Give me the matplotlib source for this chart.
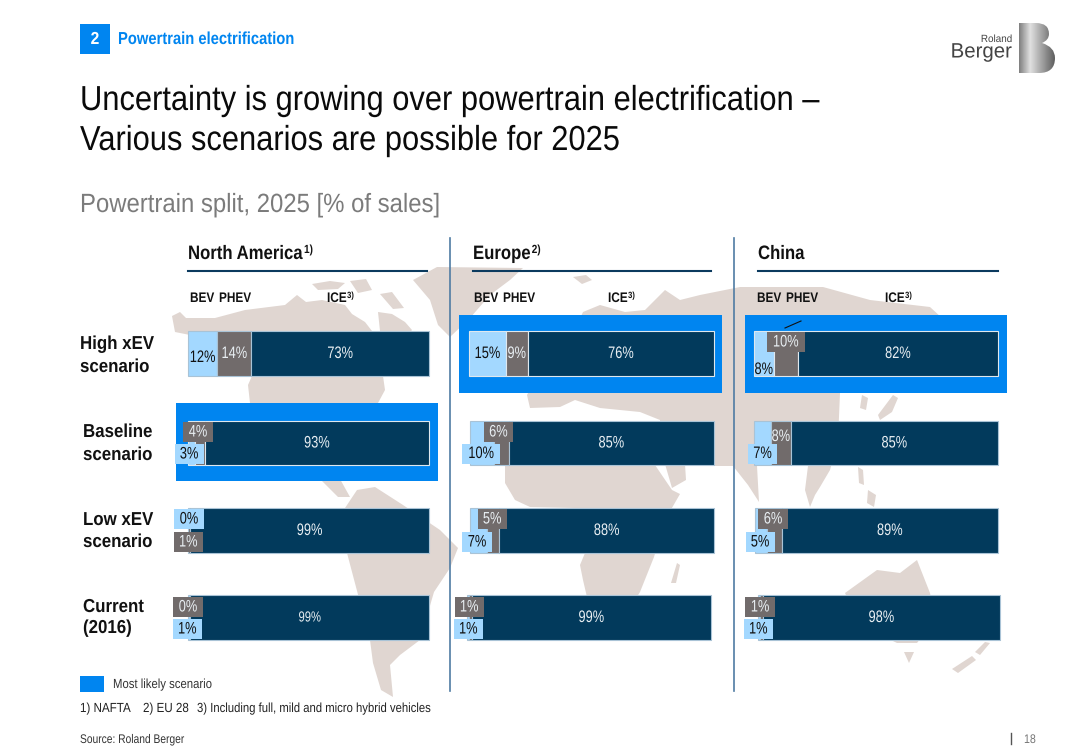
import numpy as np
import matplotlib
matplotlib.use('Agg')
import matplotlib.pyplot as plt
import matplotlib.patheffects as pe
from matplotlib.patches import Polygon, Rectangle, PathPatch
from matplotlib.path import Path
from matplotlib.transforms import Affine2D, Bbox

plt.rcParams['font.family'] = ['Liberation Sans', 'DejaVu Sans']

W, H = 1080, 748

# rows: high xEV, baseline, low xEV, current
scenarios = ['High xEV\nscenario', 'Baseline\nscenario', 'Low xEV\nscenario', 'Current\n(2016)']
regions = ['North America', 'Europe', 'China']
region_notes = ['1)', '2)', '']

na_bev = [12, 3, 0, 1]
na_phev = [14, 4, 1, 0]
na_ice = [73, 93, 99, 99]

eu_bev = [15, 10, 7, 1]
eu_phev = [9, 6, 5, 1]
eu_ice = [76, 85, 88, 99]

cn_bev = [8, 7, 5, 1]
cn_phev = [10, 8, 6, 1]
cn_ice = [82, 85, 89, 98]

likely_row = [1, 0, 0]  # most likely scenario per region

LIGHT = '#a3d8ff'
GREY = '#716b6b'
NAVY = '#023a5c'
BLUE = '#0085f0'
LAND = '#e0d6d1'
LINE = '#4f7ba3'
INK = '#111111'

# bar extents in pixels: left, right per row
row_y = [(331, 376), (421, 465), (508, 553), (595, 640)]
cell_x = [
    [(188, 429), (188, 429), (188, 429), (188, 429)],
    [(469, 714), (470, 714), (470, 714), (467, 711)],
    [(754, 998), (754, 998), (755, 998), (758, 1000)],
]

# label shifts in pixels from the middle of the segment (dx, dy down), boxed or not
# key: region, row, segment (0 bev, 1 phev, 2 ice)
nudges = {
    (0, 0, 0): (0, 4, False),
    (0, 1, 0): (-2.5, 11, True), (0, 1, 1): (-2, -11, True),
    (0, 2, 0): (1, -11.5, True), (0, 2, 1): (-1, 11.5, True),
    (0, 3, 0): (-2, 11.5, True), (0, 3, 1): (-2.4, -10.5, True),
    (1, 1, 0): (-1, 10.5, True), (1, 1, 1): (-3, -11, True),
    (1, 2, 0): (-1.5, 11.5, True), (1, 2, 1): (-1, -11.5, True),
    (1, 3, 0): (0, 11.5, True), (1, 3, 1): (-1.5, -10.5, True),
    (2, 0, 0): (0, 16, False), (2, 0, 1): (0, -11.5, True),
    (2, 1, 0): (0, 10.5, True), (2, 1, 1): (0, -6.5, False),
    (2, 2, 0): (-1, 11.5, True), (2, 2, 1): (-1.4, -11.5, True),
    (2, 3, 0): (-1, 11.5, True), (2, 3, 1): (-1.6, -10.5, True),
}

# rough outlines of the world map behind the chart, in pixels
land_shapes = [
    # north america
    [(172, 316), (180, 312), (186, 318), (215, 318), (245, 310), (285, 305), (297, 295), (306, 302),
     (322, 300), (345, 305), (352, 314), (365, 322), (372, 331), (380, 331), (378, 312), (392, 314),
     (405, 322), (412, 330), (400, 345), (383, 376), (385, 390), (378, 403), (350, 440), (335, 470),
     (350, 497), (338, 497), (323, 482), (290, 450), (250, 403), (248, 385), (252, 376), (230, 345),
     (190, 335), (175, 332)],
    # arctic islands
    [(312, 284), (330, 281), (345, 283), (338, 289), (318, 290)],
    [(350, 281), (366, 279), (372, 290), (358, 293)],
    [(380, 294), (392, 292), (404, 308), (393, 309)],
    # greenland
    [(413, 280), (437, 267), (523, 268), (510, 280), (490, 295), (470, 318), (450, 337), (438, 325), (430, 300)],
    # south america
    [(357, 490), (375, 487), (403, 505), (440, 530), (458, 548), (450, 568), (434, 592), (420, 640),
     (400, 655), (390, 665), (393, 697), (381, 690), (373, 663), (370, 640), (347, 553), (345, 508)],
    # iceland
    [(573, 277), (586, 275), (592, 280), (582, 284)],
    # eurasia
    [(583, 312), (600, 305), (625, 312), (645, 310), (665, 290), (680, 300), (700, 295), (740, 287),
     (823, 287), (870, 300), (930, 307), (942, 318), (930, 350), (880, 380), (840, 393), (838, 440),
     (830, 470), (820, 487), (815, 495), (810, 507), (805, 490), (808, 466), (757, 466), (759, 502),
     (748, 485), (733, 466), (662, 466), (660, 420), (640, 412),
     (600, 408), (575, 400), (560, 407), (530, 408), (527, 395), (535, 380), (570, 340)],
    # arabia
    [(665, 464), (685, 464), (686, 480), (672, 488)],
    # japan, korea, islands
    [(893, 395), (898, 398), (892, 412), (880, 420), (878, 415)],
    [(862, 395), (868, 398), (866, 410), (860, 408)],
    [(858, 467), (863, 470), (864, 485), (859, 483)],
    [(868, 490), (876, 495), (874, 507), (867, 503)],
    # africa
    [(505, 465), (655, 465), (672, 490), (680, 494), (665, 520), (654, 557), (640, 592), (635, 600),
     (615, 640), (600, 640), (590, 610), (583, 580), (580, 565), (585, 553), (590, 530), (575, 508),
     (530, 507), (515, 500), (505, 483)],
    # madagascar
    [(677, 563), (680, 565), (676, 583), (671, 583)],
    # australia
    [(845, 593), (877, 570), (900, 573), (917, 560), (930, 593), (935, 620), (917, 643), (897, 643), (860, 625)],
    [(904, 652), (914, 652), (909, 663)],
    # new zealand
    [(985, 642), (990, 643), (980, 655), (975, 652)],
    [(972, 656), (976, 660), (958, 673), (952, 669)],
]


class Squeeze(pe.AbstractPathEffect):
    """Draw text narrower in x, the slide uses a condensed looking face."""

    def __init__(self, sx, align='left'):
        super().__init__()
        self.sx = sx
        self.align = align

    def draw_path(self, renderer, gc, tpath, affine, rgbFace=None):
        box = tpath.get_extents(affine)
        if self.align == 'center':
            x0 = (box.x0 + box.x1) / 2
        elif self.align == 'right':
            x0 = box.x1
        else:
            x0 = affine.get_matrix()[0, 2]
        squeezed = affine + Affine2D().translate(-x0, 0).scale(self.sx, 1).translate(x0, 0)
        renderer.draw_path(gc, tpath, squeezed, rgbFace)


def put(ax, x, y, s, sx, ha='left', va='baseline', **kw):
    t = ax.text(x, y, s, ha=ha, va=va, path_effects=[Squeeze(sx, ha)], **kw)
    full_extent = t.get_window_extent

    # report the width that is really drawn
    def drawn_extent(renderer=None, dpi=None):
        box = full_extent(renderer, dpi)
        if ha == 'right':
            return Bbox.from_extents(box.x1 - box.width * sx, box.y0, box.x1, box.y1)
        if ha == 'center':
            mid = (box.x0 + box.x1) / 2
            return Bbox.from_extents(mid - box.width * sx / 2, box.y0, mid + box.width * sx / 2, box.y1)
        return Bbox.from_extents(box.x0, box.y0, box.x0 + box.width * sx, box.y1)

    t.get_window_extent = drawn_extent
    return t


def main():
    fig = plt.figure(figsize=(W / 100, H / 100), dpi=100, facecolor='white')

    # page layer in pixel coordinates
    bg = fig.add_axes([0, 0, 1, 1], zorder=0)
    bg.axis('off')

    for shape in land_shapes:
        bg.add_patch(Polygon(shape, closed=True, facecolor=LAND, edgecolor='none', zorder=1))

    # highlight boxes
    boxes = [(176, 403, 262, 78), (459, 315, 263, 78), (745, 315, 262, 78)]
    for x0, y0, w, h in boxes:
        bg.add_patch(Rectangle((x0, y0), w, h, facecolor=BLUE, edgecolor='none', zorder=2))

    # panel separators
    for x in [450, 734]:
        bg.plot([x, x], [238, 691], color=LINE, lw=1.2, zorder=3)

    # header
    bg.add_patch(Rectangle((80, 24), 30, 30, facecolor=BLUE, edgecolor='none'))
    put(bg, 95, 44, '2', 0.9, ha='center', color='white', fontsize=12.5, fontweight='bold')
    put(bg, 118, 44, 'Powertrain electrification', 0.85, color=BLUE, fontsize=12.5, fontweight='bold')
    put(bg, 80, 110, 'Uncertainty is growing over powertrain electrification \u2013', 0.889, fontsize=25, color='#0a0a0a')
    put(bg, 80, 150, 'Various scenarios are possible for 2025', 0.889, fontsize=25, color='#0a0a0a')
    put(bg, 80, 212, 'Powertrain split, 2025 [% of sales]', 0.906, fontsize=19, color='#7b7b7b')

    # logo
    put(bg, 1012, 42, 'Roland', 0.95, ha='right', fontsize=7.5, color='#444444')
    put(bg, 1012, 57.5, 'Berger', 0.98, ha='right', fontsize=15, color='#444444')
    b_path = Path(
        [(1019, 23), (1036, 23), (1049, 23), (1049, 34), (1049, 40), (1042, 43), (1055, 47), (1055, 58),
         (1055, 73), (1039, 73), (1019, 73), (1019, 23)],
        [Path.MOVETO, Path.LINETO, Path.CURVE3, Path.CURVE3, Path.CURVE3, Path.CURVE3, Path.CURVE3, Path.CURVE3,
         Path.CURVE3, Path.CURVE3, Path.LINETO, Path.CLOSEPOLY])
    shade = np.interp(np.linspace(0, 1, 64), [0, 0.3, 1], [0.5, 0.88, 0.35]).reshape(1, -1)
    im = bg.imshow(shade, extent=(1019, 1056, 73, 23), cmap='gray', vmin=0, vmax=1, aspect='auto', zorder=3)
    im.set_clip_path(PathPatch(b_path, transform=bg.transData))
    bg.set_xlim(0, W)
    bg.set_ylim(H, 0)

    # scenario names
    name_x = [80, 83, 83, 83]
    name_base = [(349, 372), (437, 460), (525, 547), (612, 633)]
    for name, x, bases in zip(scenarios, name_x, name_base):
        for line, y in zip(name.split('\n'), bases):
            put(bg, x, y, line, 0.9, fontsize=13.5, fontweight='bold', color=INK)

    renderer = fig.canvas.get_renderer()

    # region heads and column heads
    head_x = [188, 473, 758]
    rule_x = [(188, 427), (473, 711), (758, 998)]
    col_x = [(190, 219, 327), (474, 503, 608), (757, 786, 885)]
    for i, region in enumerate(regions):
        t = put(bg, head_x[i], 259, region, 0.86, fontsize=14, fontweight='bold', color=INK)
        if region_notes[i]:
            end = t.get_window_extent(renderer).x1
            put(bg, end + 1, 253, region_notes[i], 0.85, fontsize=8.5, fontweight='bold', color=INK)
        bg.plot(rule_x[i], [271, 271], color='#0b3a5e', lw=1.5, zorder=3)
        put(bg, col_x[i][0], 302, 'BEV', 0.85, fontsize=10, fontweight='bold', color=INK)
        put(bg, col_x[i][1], 302, 'PHEV', 0.85, fontsize=10, fontweight='bold', color=INK)
        t = put(bg, col_x[i][2], 302, 'ICE', 0.85, fontsize=10, fontweight='bold', color=INK)
        end = t.get_window_extent(renderer).x1
        put(bg, end + 0.5, 298, '3)', 0.85, fontsize=6.5, fontweight='bold', color=INK)

    # bars, one small axes per region and scenario
    series = [(na_bev, na_phev, na_ice), (eu_bev, eu_phev, eu_ice), (cn_bev, cn_phev, cn_ice)]
    for r, (bev, phev, ice) in enumerate(series):
        for s in range(len(scenarios)):
            x0, x1 = cell_x[r][s]
            y0, y1 = row_y[s]
            ax = fig.add_axes([x0 / W, 1 - y1 / H, (x1 - x0) / W, (y1 - y0) / H], zorder=2)
            ax.patch.set_alpha(0)
            ax.axis('off')
            vals = [bev[s], phev[s], ice[s]]
            ax.set_xlim(0, sum(vals))
            ax.set_ylim(-0.5, 0.5)
            edge = '#dfe8ee' if likely_row[r] == s else '#a9c3d6'
            left = 0
            for k, (v, c) in enumerate(zip(vals, [LIGHT, GREY, NAVY])):
                if v > 0:
                    ax.barh(0, v, left=left, height=1, color=c, edgecolor=edge, linewidth=0.8, clip_on=False)
                dx, dy, boxed = nudges.get((r, s, k), (0, 0, False))
                txt_col = INK if k == 0 else '#e9eff3'
                bbox = None
                if boxed:
                    bbox = dict(facecolor=c, edgecolor='none', pad=1.8)
                size = 10.5 if (r == 0 and s == 3 and k == 2) else 12
                ax.annotate(f'{v}%', (left + v / 2, 0), xytext=(dx * 0.72, -dy * 0.72), textcoords='offset points',
                            ha='center', va='center', fontsize=size, color=txt_col, bbox=bbox,
                            annotation_clip=False, zorder=5, path_effects=[Squeeze(0.77, 'center')])
                left += v

    # little leader line in china
    top = fig.add_axes([0, 0, 1, 1], zorder=3)
    top.set_xlim(0, W)
    top.set_ylim(H, 0)
    top.axis('off')
    top.patch.set_alpha(0)
    top.plot([785, 801], [328, 321], color=INK, lw=0.8)

    # legend and footnotes
    bg.add_patch(Rectangle((80, 676), 24, 16, facecolor=BLUE, edgecolor='none'))
    put(bg, 113, 688, 'Most likely scenario', 0.86, fontsize=9.5, color='#333333')
    put(bg, 80, 712, '1) NAFTA', 0.88, fontsize=9.5, color='#222222')
    put(bg, 143, 712, '2) EU 28', 0.88, fontsize=9.5, color='#222222')
    put(bg, 197, 712, '3) Including full, mild and micro hybrid vehicles', 0.857, fontsize=9.5, color='#222222')
    put(bg, 80, 743, 'Source: Roland Berger', 0.82, fontsize=9, color='#333333')
    bg.plot([1011, 1011], [733, 744], color='#555555', lw=1)
    put(bg, 1024, 743, '18', 0.85, fontsize=9, color='#777777')

    fig.savefig('out.png', dpi=100)
    plt.close(fig)


if __name__ == "__main__":
    main()
